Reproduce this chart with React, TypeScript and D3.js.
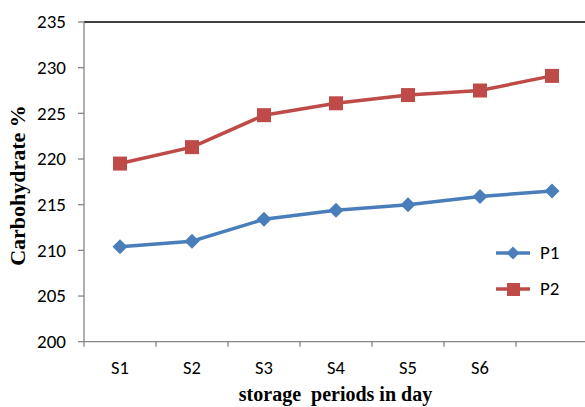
import React from "react";
import * as d3 from "d3";

const categories = ["S1", "S2", "S3", "S4", "S5", "S6", ""];
const p1Values = [210.4, 211.0, 213.4, 214.4, 215.0, 215.9, 216.5];
const p2Values = [219.5, 221.3, 224.8, 226.1, 227.0, 227.5, 229.1];
const yTicks = [200, 205, 210, 215, 220, 225, 230, 235];
const seriesNames = ["P1", "P2"];

const W = 585, H = 407;
const left = 84, right = 588, top = 22, bottom = 341.7;

export default function App() {
  const x = d3.scaleBand<string>().domain(categories.map((c, i) => String(i))).range([left, right]).padding(0);
  const y = d3.scaleLinear().domain([200, 235]).range([bottom, top]);
  const cx = (i: number) => (x(String(i)) as number) + x.bandwidth() / 2;
  const line = d3.line<number>().x((_, i) => cx(i)).y((d) => y(d));
  const blue = "#4a7ebb";
  const red = "#be4b48";
  const diamond = (px: number, py: number, s = 7.5) => `M${px},${py - s}L${px + s},${py}L${px},${py + s}L${px - s},${py}Z`;
  const tickXs = d3.range(categories.length + 1).map((i) => left + i * x.bandwidth());
  const sans = "Carlito, Calibri, 'Liberation Sans', Arial, sans-serif";
  const serif = "'Liberation Serif', 'Times New Roman', serif";
  return (
    <svg width={W} height={H} style={{ position: "absolute", left: 0, top: 0, background: "#fff" }}>
      <rect width={W} height={H} fill="#fff" />
      <line x1={left} x2={W} y1={top} y2={top} stroke="#000" strokeWidth={1.3} />
      <line x1={left} x2={left} y1={top} y2={bottom} stroke="#868686" strokeWidth={1.3} />
      <line x1={left} x2={W} y1={bottom} y2={bottom} stroke="#868686" strokeWidth={1.3} />
      {yTicks.map((t) => (
        <g key={t}>
          <line x1={left - 6} x2={left} y1={y(t)} y2={y(t)} stroke="#868686" strokeWidth={1.3} />
          <text x={66} y={y(t)} dy="0.34em" textAnchor="end" fontFamily={sans} fontSize={19} fill="#000">{t}</text>
        </g>
      ))}
      {tickXs.map((tx, i) => (
        <line key={i} x1={tx} x2={tx} y1={bottom} y2={bottom + 5} stroke="#868686" strokeWidth={1.3} />
      ))}
      {categories.map((c, i) => (
        <text key={i} x={cx(i)} y={374} textAnchor="middle" fontFamily={sans} fontSize={18.5} fill="#000">{c}</text>
      ))}
      <path d={line(p1Values) || ""} fill="none" stroke={blue} strokeWidth={3.5} />
      {p1Values.map((v, i) => (
        <path key={i} d={diamond(cx(i), y(v))} fill={blue} />
      ))}
      <path d={line(p2Values) || ""} fill="none" stroke={red} strokeWidth={3.5} />
      {p2Values.map((v, i) => (
        <rect key={i} x={cx(i) - 7} y={y(v) - 7} width={14} height={14} fill={red} />
      ))}
      <text transform={`translate(25,185.5) rotate(-90)`} textAnchor="middle" fontFamily={serif} fontWeight="bold" fontSize={22} fill="#000">Carbohydrate %</text>
      <text x={335.5} y={401} textAnchor="middle" fontFamily={serif} fontWeight="bold" fontSize={20} fill="#000" style={{ whiteSpace: "pre" }}>{"storage  periods in day"}</text>
      <g>
        <line x1={496} x2={530} y1={253} y2={253} stroke={blue} strokeWidth={3.5} />
        <path d={diamond(513, 253, 6.5)} fill={blue} />
        <text x={540} y={253} dy="0.34em" fontFamily={sans} fontSize={19} fill="#000">{seriesNames[0]}</text>
        <line x1={496} x2={530} y1={289} y2={289} stroke={red} strokeWidth={3.5} />
        <rect x={507} y={283} width={13} height={13} fill={red} />
        <text x={540} y={289} dy="0.34em" fontFamily={sans} fontSize={19} fill="#000">{seriesNames[1]}</text>
      </g>
    </svg>
  );
}
